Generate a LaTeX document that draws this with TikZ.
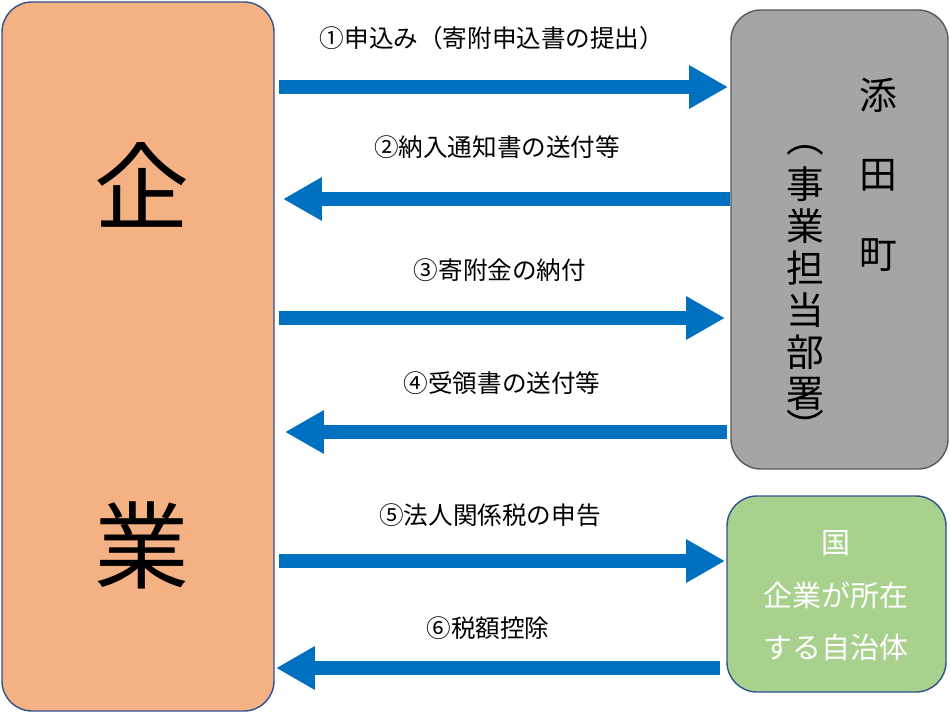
\documentclass[tikz,border=0pt]{standalone}
\usepackage{fontspec}
\setmainfont{Noto Sans CJK JP}
\usetikzlibrary{arrows.meta, positioning}
\definecolor{BoxOrange}{HTML}{F4B183}
\definecolor{BoxGreen}{HTML}{A9D18E}
\definecolor{BoxGrey}{HTML}{A5A5A5}
\definecolor{EdgeBlue}{HTML}{2F528F}
\definecolor{FlowBlue}{HTML}{0070C0}
\tikzset{
  flow/.style={FlowBlue, line width=8pt, -{Triangle[length=0.78cm, width=0.82cm]}},
  lbl/.style={font=\fontsize{14}{16}\selectfont, black},
  party/.style={rounded corners=0.6cm, thick}
}
\begin{document}
\begin{tikzpicture}[x=0.02cm, y=-0.02cm]
    \useasboundingbox (0,0) rectangle (950,713);
    % Cajas
    \filldraw[party, fill=BoxOrange, draw=EdgeBlue] (2,2) rectangle (274,711);
    \filldraw[party, fill=BoxGrey, draw=gray!70!black] (731,10) rectangle (948,469);
    \filldraw[party, fill=BoxGreen, draw=EdgeBlue] (727,496) rectangle (946,692);

    % Textos de las cajas
    \node[font=\fontsize{54}{54}\selectfont] (ki) at (142,185) {企};
    \node[font=\fontsize{54}{54}\selectfont] (gyo) at (142,545) {業};
    \foreach \y/\c [count=\i] in {95/添, 175/田, 255/町}
        \node[font=\fontsize{21.5}{22}\selectfont] (town\i) at (878,\y) {\c};
    \foreach \y/\c [count=\i] in {150/︵, 184/事, 226/業, 268/担, 310/当, 352/部, 394/署, 426/︶}
        \node[font=\fontsize{21.5}{22}\selectfont] (dept\i) at (805,\y) {\c};
    \foreach \y/\t [count=\i] in {543/国, 595/企業が所在, 647/する自治体}
        \node[font=\fontsize{16.5}{18}\selectfont, white] (gov\i) at (836,\y) {\t};

    % Flechas
    \foreach \n/\xa/\xb/\y in {1/279/728/87, 2/730/283/199, 3/279/725/318,
                               4/727/285/432, 5/279/725/561, 6/720/276/668} {
        \coordinate (s\n) at (\xa,\y);
        \coordinate (e\n) at (\xb,\y);
        \draw[flow] (s\n) -- (e\n);
    }

    % Etiquetas
    \node[lbl] (l1) at (492,38) {①申込み（寄附申込書の提出）};
    \node[lbl] (l2) at (497,147) {②納入通知書の送付等};
    \node[lbl] (l3) at (500,270) {③寄附金の納付};
    \node[lbl] (l4) at (502,383) {④受領書の送付等};
    \node[lbl] (l5) at (490,515) {⑤法人関係税の申告};
    \node[lbl] (l6) at (488,628) {⑥税額控除};
\end{tikzpicture}
\end{document}
